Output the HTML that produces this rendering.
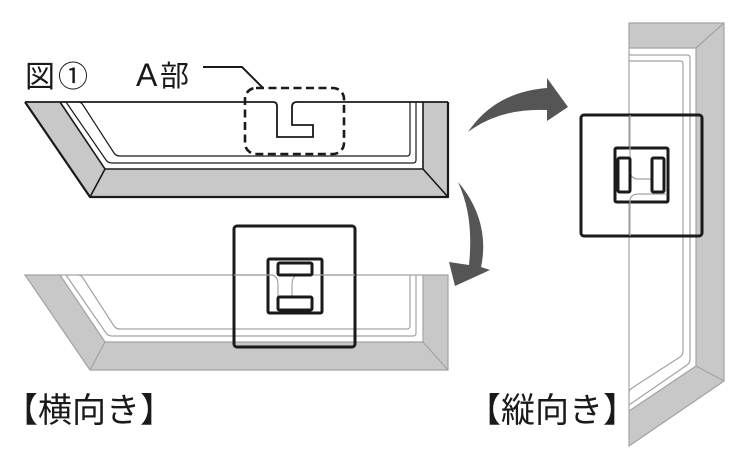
<!DOCTYPE html>
<html><head><meta charset="utf-8"><style>
html,body{margin:0;padding:0;background:#fff;width:750px;height:473px;overflow:hidden}
svg{display:block}
text{font-family:"Liberation Sans","Noto Sans CJK JP",sans-serif;fill:#1a1a1a}
</style></head><body>
<svg width="750" height="473" viewBox="0 0 750 473" xmlns="http://www.w3.org/2000/svg">
<defs>
<g id="tr">
 <polygon points="25,102 448,102 448,197 90,197" fill="#c8c8c8" stroke="none"/>
 <polygon points="60,102 423,102 423,169 105,169" fill="#fff" stroke="none"/>
 <path d="M25,102 L90,197 L448,197 L448,102 Z M60,102 L105,169 L423,169 L423,102 M105,169 L90,197 M423,169 L448,197" fill="none"/>
 <path d="M66,102 L106,160 Q108,163 112,163 L413,163 Q416,163 416,160 L416,102 M78,102 Q81,102 83,105 L114,153 Q116,156 120,156 L407,156 Q410,156 410,153 L410,102" fill="none"/>
</g>
</defs>

<!-- top tray -->
<polygon points="25,102 448,102 448,197 90,197" fill="#c8c8c8"/>
<polygon points="60,102 423,102 423,169 105,169" fill="#fff"/>
<g fill="none" stroke="#1a1a1a">
 <path d="M25,102 L90,197 L448,197 L448,102" stroke-width="2.2" stroke-linejoin="round"/>
 <path d="M25,102 L273,102 Q277,102 277,106 L277,137 L313,137 L313,125 L292,125 L292,107 Q292,102 297,102 L448,102" stroke-width="1.8"/>
 <path d="M60,102 L105,169 L423,169 L423,102 M105,169 L90,197 M423,169 L448,197" stroke-width="1.6"/>
 <path d="M66,102 L106,160 Q108,163 112,163 L413,163 Q416,163 416,160 L416,102 M78,102 Q81,102 83,105 L114,153 Q116,156 120,156 L407,156 Q410,156 410,153 L410,102" stroke-width="1.2"/>
</g>

<!-- faded trays -->
<use href="#tr" transform="translate(0,173)" stroke="#a3a3a3" stroke-width="1.2"/>
<use href="#tr" transform="matrix(0,-1,1,0,527,471)" stroke="#a3a3a3" stroke-width="1.2"/>

<!-- dashed callout -->
<rect x="245" y="88" width="99" height="66" rx="11" fill="none" stroke="#1a1a1a" stroke-width="2.6" stroke-dasharray="8 4.5"/>
<path d="M203,67 L242,67 L263,88" fill="none" stroke="#1a1a1a" stroke-width="2"/>

<!-- bottom magnified box -->
<rect x="234" y="226" width="121" height="121" rx="3" fill="none" stroke="#1a1a1a" stroke-width="3"/>
<rect x="268" y="259" width="54" height="54" rx="1.5" fill="#fff" stroke="#1a1a1a" stroke-width="3"/>
<path d="M234,275 L272,275 Q278,276 278,285 L278,297 M297,275 Q292,277 292,285 L292,297 M312,275 L355,275" fill="none" stroke="#a3a3a3" stroke-width="1.2"/>
<rect x="278" y="263" width="34" height="12" rx="1.5" fill="#fff" stroke="#1a1a1a" stroke-width="3"/>
<rect x="278" y="297" width="34" height="13" rx="1.5" fill="#fff" stroke="#1a1a1a" stroke-width="3"/>

<!-- right magnified box -->
<rect x="581" y="115" width="121" height="121" rx="3" fill="none" stroke="#1a1a1a" stroke-width="3"/>
<rect x="615" y="148" width="53" height="54" rx="1.5" fill="#fff" stroke="#1a1a1a" stroke-width="3"/>
<path d="M630,115 L630,158 M630,173 Q632,179 638,179 L652,179 M630,236 L630,200 Q631,194 638,194 L667,194" fill="none" stroke="#a3a3a3" stroke-width="1.2"/>
<rect x="618" y="158" width="12" height="34" rx="1.5" fill="#fff" stroke="#1a1a1a" stroke-width="3"/>
<rect x="652" y="158" width="12" height="34" rx="1.5" fill="#fff" stroke="#1a1a1a" stroke-width="3"/>

<!-- arrows -->
<path d="M468,132 Q495,92 547,88 L547,78 L568,107 L547,121 L547,110 Q500,108 468,132 Z" fill="#555"/>
<path d="M458,182 C478,205 488,235 481,267 L490,270 L455,286 L449,262 L469,265 C472,235 470,208 458,182 Z" fill="#555"/>

<!-- labels -->
<text x="25" y="87" font-size="30">図</text>
<text x="58" y="87" font-size="30">①</text>
<text x="136" y="86" font-size="32" style="font-family:'Liberation Sans',sans-serif">A</text>
<text x="160" y="86" font-size="29">部</text>
<text x="4" y="422" font-size="34">【横向き】</text>
<text x="467" y="422" font-size="34">【縦向き】</text>
</svg>
</body></html>
